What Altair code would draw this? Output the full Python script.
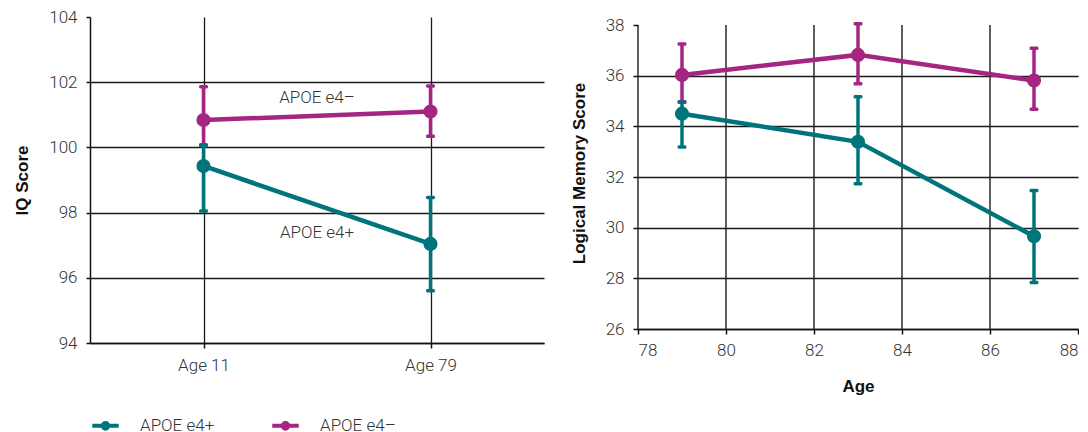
import altair as alt
import pandas as pd

groups = ["APOE e4+", "APOE e4–"]
colors = ["#00747B", "#A42582"]

# Panel 1: IQ score at two ages
iq_ages = ["Age 11", "Age 79"]
iq_pos = [0, 1]
iq_plus = [99.43, 97.04]
iq_plus_lo = [98.05, 95.6]
iq_plus_hi = [100.05, 98.46]
iq_minus = [100.84, 101.1]
iq_minus_lo = [100.08, 100.34]
iq_minus_hi = [101.86, 101.88]
iq_ticks = [94, 96, 98, 100, 102, 104]
iq_ann_text = ["APOE e4–", "APOE e4+"]
iq_ann_x = [0.5, 0.5]
iq_ann_y = [101.52, 97.36]

# Panel 2: Logical memory score by age
lm_ages = [79, 83, 87]
lm_plus = [34.5, 33.39, 29.66]
lm_plus_lo = [33.18, 31.73, 27.84]
lm_plus_hi = [34.95, 35.17, 31.47]
lm_minus = [36.03, 36.82, 35.81]
lm_minus_lo = [34.97, 35.68, 34.67]
lm_minus_hi = [37.25, 38.05, 37.08]
lm_yticks = [26, 28, 30, 32, 34, 36, 38]
lm_xticks = [78, 80, 82, 84, 86, 88]

LABEL_FONT = "Roboto"
TITLE_FONT = "Liberation Sans"


def panel_df(xs, plus, plus_lo, plus_hi, minus, minus_lo, minus_hi):
    rows = []
    for g, m, lo, hi in [(groups[0], plus, plus_lo, plus_hi),
                         (groups[1], minus, minus_lo, minus_hi)]:
        for x, v, l, h in zip(xs, m, lo, hi):
            rows.append(dict(x=x, group=g, mean=v, lo=l, hi=h))
    return pd.DataFrame(rows)


# blank (em-space) legend title on the left pushes the legend entries towards the centre
legend_indent = "\u2003" * 18
color_scale = alt.Scale(domain=groups, range=colors)
legend = alt.Legend(
    title=legend_indent, titleOrient="left", titleFontSize=17.1, titleLimit=1000, titlePadding=0,
    titleOpacity=0, orient="bottom", direction="horizontal", offset=16,
    symbolType="M-1,0L1,0M-0.21,0A0.21,0.21 0 1,0 0.21,0A0.21,0.21 0 1,0 -0.21,0Z",
    symbolSize=700, symbolStrokeWidth=4, labelFont=LABEL_FONT, labelFontSize=17,
    labelColor="#333333", labelFontWeight=300, columnPadding=49, labelOffset=19,
)


def panel(df, xenc_fn, yscale, yaxis):
    base = alt.Chart(df)
    col = alt.Color("group:N", scale=color_scale, legend=legend)
    rules = base.mark_rule(strokeWidth=3.5).encode(
        x=xenc_fn(True), y=alt.Y("lo:Q", scale=yscale, axis=yaxis), y2="hi:Q", color=col)
    cap_lo = base.mark_tick(orient="horizontal", size=9, thickness=3.5, opacity=1, cornerRadius=1.5).encode(
        x=xenc_fn(False), y=alt.Y("lo:Q", scale=yscale), color=col)
    cap_hi = base.mark_tick(orient="horizontal", size=9, thickness=3.5, opacity=1, cornerRadius=1.5).encode(
        x=xenc_fn(False), y=alt.Y("hi:Q", scale=yscale), color=col)
    line = base.mark_line(strokeWidth=4.5).encode(
        x=xenc_fn(False), y=alt.Y("mean:Q", scale=yscale), color=col, detail="group:N")
    pts = base.mark_circle(size=200, opacity=1).encode(
        x=xenc_fn(False), y=alt.Y("mean:Q", scale=yscale), color=col)
    return rules, cap_lo, cap_hi, line, pts


# ---------- left panel ----------
iq_df = panel_df(iq_pos, iq_plus, iq_plus_lo, iq_plus_hi, iq_minus, iq_minus_lo, iq_minus_hi)
label_expr = " : ".join(
    [f"datum.value == {p} ? '{a}'" for p, a in zip(iq_pos, iq_ages)]) + " : ''"
iq_xscale = alt.Scale(domain=[-0.5, 1.5], nice=False, zero=False)


def iq_x(with_axis):
    if with_axis:
        return alt.X("x:Q", scale=iq_xscale, title=None,
                     axis=alt.Axis(values=iq_pos, labelExpr=label_expr, grid=True,
                                   tickSize=5, labelPadding=9))
    return alt.X("x:Q", scale=iq_xscale)


iq_yscale = alt.Scale(domain=[94, 104], nice=False, zero=False)
iq_yaxis = alt.Axis(values=iq_ticks, title="IQ Score", grid=True, tickSize=4, labelPadding=9,
                    titlePadding=17,
                    gridOpacity={"condition": {"test": "datum.value == 104", "value": 0}, "value": 1})
l_rules, l_lo, l_hi, l_line, l_pts = panel(iq_df, iq_x, iq_yscale, iq_yaxis)

ann_df = pd.DataFrame({"x": iq_ann_x, "y": iq_ann_y, "t": iq_ann_text})
ann = alt.Chart(ann_df).mark_text(font=LABEL_FONT, fontSize=17, fontWeight=300, color="#333333",
                                  align="center", baseline="middle").encode(
    x=alt.X("x:Q", scale=iq_xscale), y=alt.Y("y:Q", scale=iq_yscale), text="t:N")

left = alt.layer(l_rules, l_lo, l_hi, ann, l_line, l_pts).properties(width=454, height=326)

# ---------- right panel ----------
# the right plot sits 8 px lower than the left one: extend its y range upward
# by that amount and draw its vertical grid / axis line only over 26..38
lm_plot_h = 304
lm_extra_px = 8
lm_top = lm_yticks[-1] + lm_extra_px * (lm_yticks[-1] - lm_yticks[0]) / lm_plot_h
lm_df = panel_df(lm_ages, lm_plus, lm_plus_lo, lm_plus_hi, lm_minus, lm_minus_lo, lm_minus_hi)
lm_xscale = alt.Scale(domain=[lm_xticks[0], lm_xticks[-1]], nice=False, zero=False)
lm_yscale = alt.Scale(domain=[lm_yticks[0], lm_top], nice=False, zero=False)


def lm_x(with_axis):
    if with_axis:
        return alt.X("x:Q", scale=lm_xscale, title="Age",
                     axis=alt.Axis(values=lm_xticks, grid=False, tickSize=5, labelPadding=8,
                                   titlePadding=20))
    return alt.X("x:Q", scale=lm_xscale)


lm_yaxis = alt.Axis(values=lm_yticks, title="Logical Memory Score", grid=True, tickSize=5,
                    labelPadding=9, titlePadding=17, domain=False,
                    gridOpacity={"condition": {"test": "datum.value == 38", "value": 0}, "value": 1})
r_rules, r_lo, r_hi, r_line, r_pts = panel(lm_df, lm_x, lm_yscale, lm_yaxis)

vgrid_df = pd.DataFrame({"x": lm_xticks[:-1], "y0": lm_yticks[0], "y1": lm_yticks[-1]})
vgrid = alt.Chart(vgrid_df).mark_rule(color="#1a1a1a", strokeWidth=1.4).encode(
    x=alt.X("x:Q", scale=lm_xscale), y=alt.Y("y0:Q", scale=lm_yscale), y2="y1:Q")

right = alt.layer(vgrid, r_rules, r_lo, r_hi, r_line, r_pts).properties(
    width=440, height=lm_plot_h + lm_extra_px)

chart = alt.hconcat(left, right, spacing=26).properties(
    padding={"left": 5, "top": 0, "right": 0, "bottom": 5}
).configure_view(stroke=None).configure_axis(
    domainColor="#111111", domainWidth=1.5, gridColor="#1a1a1a", gridWidth=1.3,
    tickColor="#111111", tickWidth=1.5,
    labelFont=LABEL_FONT, labelFontSize=17, labelFontWeight=300, labelColor="#333333",
    titleFont=TITLE_FONT, titleFontSize=17, titleFontWeight="bold", titleColor="#111111",
)

chart.save("out.html", embed_options={"renderer": "svg", "actions": False})
